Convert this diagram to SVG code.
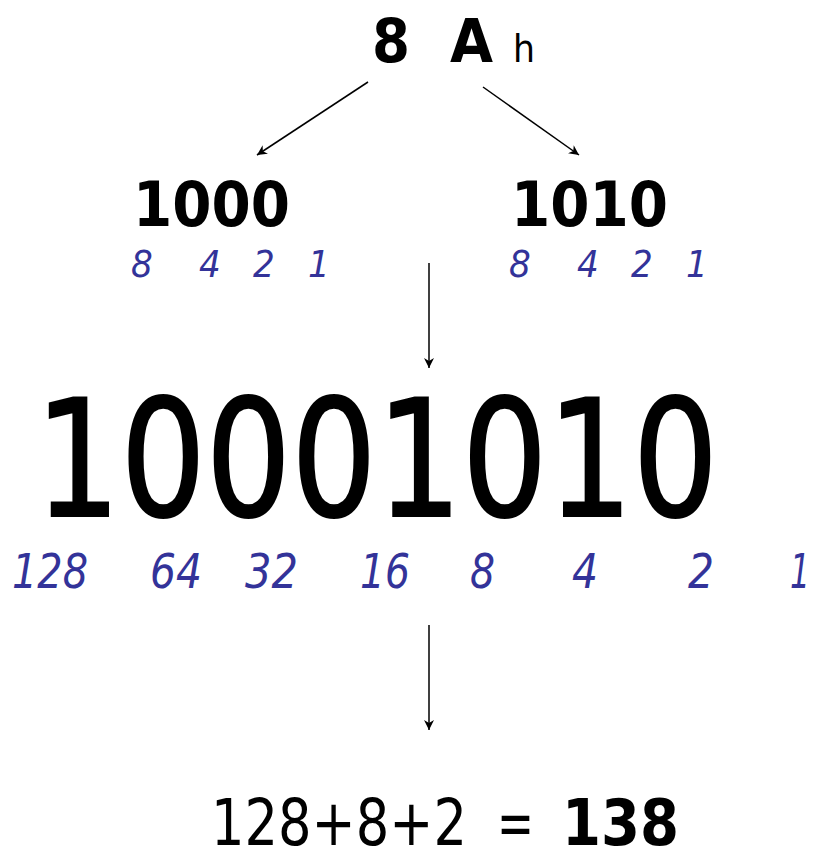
<svg xmlns="http://www.w3.org/2000/svg" width="817" height="849" viewBox="0 0 817 849">
<style>
text{font-family:"DejaVu Sans Condensed","DejaVu Sans","Liberation Sans",sans-serif;fill:#000}
.b{font-weight:bold}
.w{fill:#333399;font-style:italic}
.big{stroke:#000;stroke-width:2}
.c{stroke:#000;stroke-width:1.5;fill:none;marker-end:url(#ah)}
</style>
<defs>
<marker id="ah" viewBox="0 0 10 10" refX="10" refY="5" markerWidth="10" markerHeight="10" markerUnits="userSpaceOnUse" orient="auto">
<path d="M0,0 L10,5 L0,10 L3,5 Z" fill="#000"/>
</marker>
</defs>
<rect width="817" height="849" fill="#fff"/>
<g id="hex">
<text class="b" x="372" y="62" font-size="60" textLength="38" lengthAdjust="spacingAndGlyphs">8</text>
<text class="b" x="450" y="62" font-size="60" textLength="43" lengthAdjust="spacingAndGlyphs">A</text>
<text x="513" y="62" font-size="37" textLength="22" lengthAdjust="spacingAndGlyphs">h</text>
</g>
<g id="nibble-high">
<text class="b" x="133" y="226" font-size="63" textLength="157" lengthAdjust="spacingAndGlyphs">1000</text>
<text class="w" x="131" y="277" font-size="38">8</text>
<text class="w" x="199" y="277" font-size="38">4</text>
<text class="w" x="253" y="277" font-size="38">2</text>
<text class="w" x="308" y="277" font-size="38">1</text>
</g>
<g id="nibble-low">
<text class="b" x="511" y="226" font-size="63" textLength="157" lengthAdjust="spacingAndGlyphs">1010</text>
<text class="w" x="509" y="277" font-size="38">8</text>
<text class="w" x="577" y="277" font-size="38">4</text>
<text class="w" x="631" y="277" font-size="38">2</text>
<text class="w" x="686" y="277" font-size="38">1</text>
</g>
<g id="binary">
<text class="big" x="35" y="516" font-size="162" textLength="683" lengthAdjust="spacingAndGlyphs">10001010</text>
<text class="w" x="12" y="588" font-size="48" textLength="76" lengthAdjust="spacingAndGlyphs">128</text>
<text class="w" x="150" y="588" font-size="48" textLength="52" lengthAdjust="spacingAndGlyphs">64</text>
<text class="w" x="245" y="588" font-size="48" textLength="53" lengthAdjust="spacingAndGlyphs">32</text>
<text class="w" x="360" y="588" font-size="48" textLength="50" lengthAdjust="spacingAndGlyphs">16</text>
<text class="w" x="470" y="588" font-size="48" textLength="25" lengthAdjust="spacingAndGlyphs">8</text>
<text class="w" x="572" y="588" font-size="48" textLength="26" lengthAdjust="spacingAndGlyphs">4</text>
<text class="w" x="688" y="588" font-size="48" textLength="26" lengthAdjust="spacingAndGlyphs">2</text>
<text class="w" x="790" y="588" font-size="48" textLength="20" lengthAdjust="spacingAndGlyphs">1</text>
</g>
<g id="result">
<text x="211" y="845" font-size="64" textLength="256" lengthAdjust="spacingAndGlyphs">128+8+2</text>
<text x="497" y="845" font-size="64" textLength="37" lengthAdjust="spacingAndGlyphs">=</text>
<text class="b" x="562" y="845" font-size="64" textLength="117" lengthAdjust="spacingAndGlyphs">138</text>
</g>
<g id="connectors">
<line class="c" x1="368" y1="82" x2="257" y2="155"/>
<line class="c" x1="483" y1="87" x2="579" y2="155"/>
<line class="c" x1="429" y1="263" x2="429" y2="368"/>
<line class="c" x1="429" y1="625" x2="429" y2="730"/>
</g>
</svg>
